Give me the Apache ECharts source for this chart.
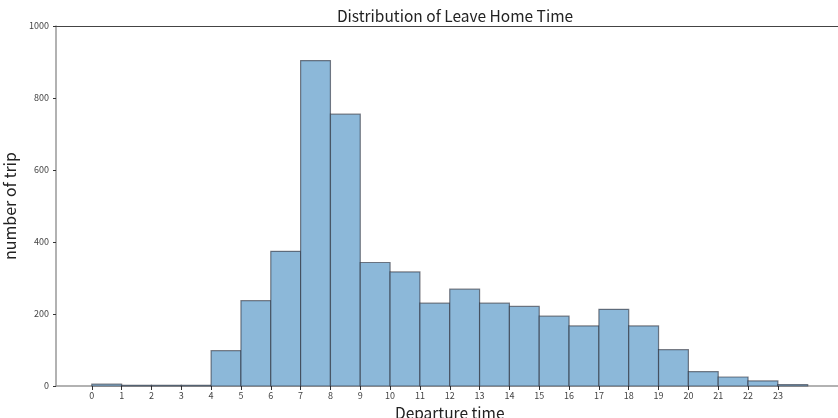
<!DOCTYPE html>
<html>
<head>
<meta charset="utf-8">
<script src="https://cdn.jsdelivr.net/npm/echarts@6/dist/echarts.min.js"></script>
<style>html,body{margin:0;padding:0;background:#fff}#c{width:838px;height:418px}</style>
</head>
<body>
<div id="c"></div>
<script>
const binStarts = [0,1,2,3,4,5,6,7,8,9,10,11,12,13,14,15,16,17,18,19,20,21,22,23];
const binWidth = 1;
const counts = [5,2,2,2,98,237,374,904,755,343,317,230,269,230,221,194,167,213,167,101,40,25,14,4];
const xTicks = [0,1,2,3,4,5,6,7,8,9,10,11,12,13,14,15,16,17,18,19,20,21,22,23];
const yTicks = [0,200,400,600,800,1000];

const FONT = '"Noto Sans CJK JP", "Noto Sans", sans-serif';
const data = binStarts.map((s, i) => [s, s + binWidth, counts[i]]);

const chart = echarts.init(document.getElementById('c'), null, {renderer: 'canvas'});
chart.setOption({
  animation: false,
  title: {
    text: 'Distribution of Leave Home Time',
    left: 450, top: 3, textAlign: 'center',
    textStyle: {fontFamily: FONT, fontSize: 15.5, fontWeight: 'normal', color: '#222'}
  },
  grid: {left: 56, top: 26, width: 787.5, height: 360, containLabel: false, outerBoundsMode: 'none'},
  xAxis: [{
    type: 'value', min: -1.2, max: 25.2, position: 'bottom',
    name: 'Departure time', nameLocation: 'middle', nameGap: 16,
    nameTextStyle: {fontFamily: FONT, fontSize: 15.5, color: '#222'},
    axisLine: {show: true, onZero: false, lineStyle: {color: '#999', width: 1.5}},
    axisTick: {show: true, customValues: xTicks, length: 4, lineStyle: {color: '#333'}},
    axisLabel: {customValues: xTicks, fontFamily: FONT, fontSize: 9, color: '#444', margin: 5},
    splitLine: {show: false}
  }, {
    type: 'value', min: -1.2, max: 25.2, position: 'top',
    axisLine: {show: true, onZero: false, lineStyle: {color: '#444', width: 1.2}},
    axisTick: {show: false}, axisLabel: {show: false}, splitLine: {show: false}
  }],
  yAxis: {
    type: 'value', min: 0, max: 1000, interval: 200,
    name: 'number of trip', nameLocation: 'middle', nameGap: 25, nameRotate: 90,
    nameTextStyle: {fontFamily: FONT, fontSize: 16, color: '#222'},
    axisLine: {show: true, onZero: false, lineStyle: {color: '#999', width: 1.5}},
    axisTick: {show: true, length: 3, lineStyle: {color: '#333'}},
    axisLabel: {fontFamily: FONT, fontSize: 9, color: '#444', margin: 7,
      customValues: yTicks, formatter: v => String(v)},
    splitLine: {show: false}
  },
  series: [{
    type: 'custom',
    xAxisIndex: 0,
    data: data,
    encode: {x: [0, 1], y: 2},
    renderItem: function (params, api) {
      const p0 = api.coord([api.value(0), api.value(2)]);
      const p1 = api.coord([api.value(1), 0]);
      return {
        type: 'rect',
        shape: {x: p0[0], y: p0[1], width: p1[0] - p0[0], height: p1[1] - p0[1]},
        style: {fill: '#8cb8d9', stroke: 'rgba(30,30,40,0.55)', lineWidth: 1.2}
      };
    }
  }]
});
</script>
</body>
</html>
